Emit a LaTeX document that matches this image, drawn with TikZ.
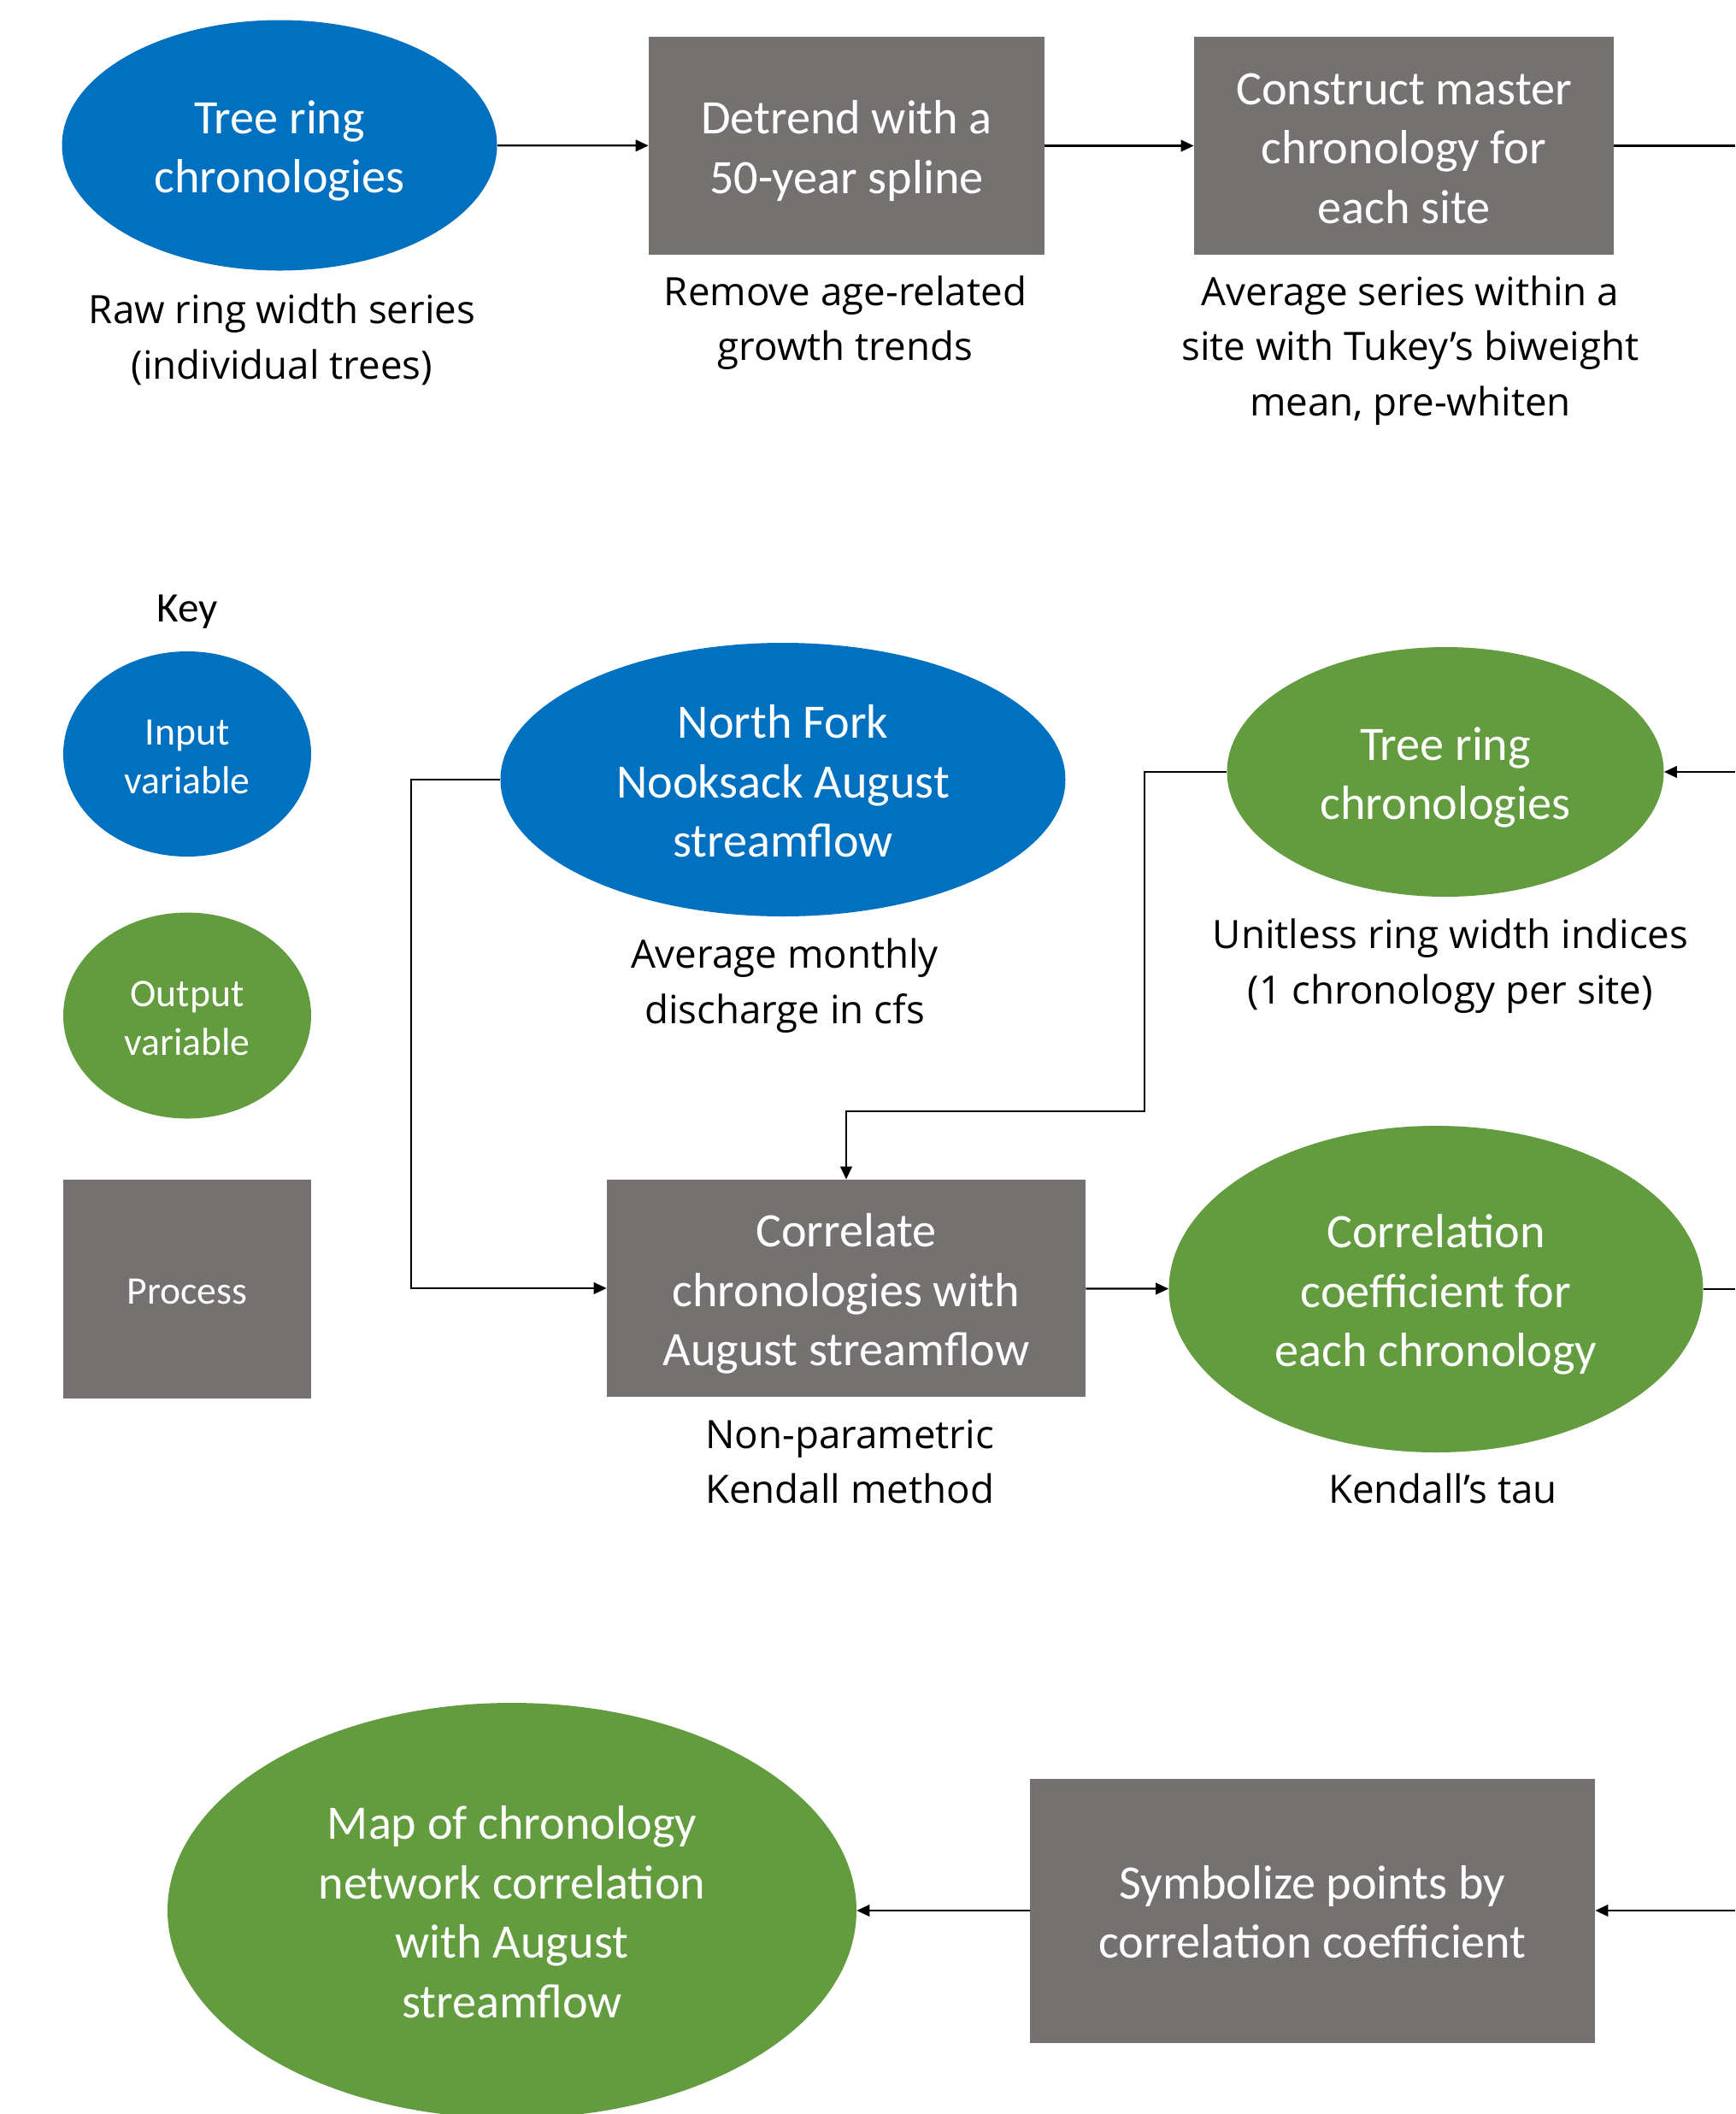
\documentclass[tikz,border=0pt]{standalone}
\usepackage{fontspec}
\setmainfont{Carlito}
\newfontfamily\capfont{Open Sans}
\usepackage{xcolor}
\usepackage{tikz}
\usetikzlibrary{shapes,positioning,calc,arrows.meta}
\definecolor{inblue}{HTML}{0070C0}
\definecolor{outgreen}{HTML}{629C3F}
\definecolor{procgray}{HTML}{767171}
\newcommand{\bodystrut}{\rule{0pt}{32pt}}
\newcommand{\keystrut}{\rule{0pt}{28pt}}

\begin{document}
\begin{tikzpicture}[node distance=0cm, auto,
    bodytext/.style={text=white, inner sep=0pt, align=center, font=\fontsize{32}{39.5}\selectfont,
        execute at end node={\rule[-8pt]{0pt}{8pt}}},
    inputvar/.style={ellipse, fill=inblue, bodytext},
    outputvar/.style={ellipse, fill=outgreen, bodytext},
    process/.style={rectangle, fill=procgray, bodytext},
    keytext/.style={font=\fontsize{26}{32.4}\selectfont},
    caption/.style={align=center, inner sep=0pt, font=\capfont\fontsize{26}{36.7}\selectfont,
        execute at begin node={\rule{0pt}{22pt}}, execute at end node={\rule[-7pt]{0pt}{7pt}}},
    arr/.style={line width=1.3pt, -{Triangle[length=0.3cm,width=0.27cm]}},
    link/.style={line width=1.3pt}]
    \useasboundingbox (0,0) rectangle (40.6,-49.46);

    \node [inputvar, minimum width=10.18cm, minimum height=5.86cm] (rawtree) at (6.54,-3.40) {\bodystrut Tree ring\\chronologies};
    \node [caption] (rawcap) at (6.60,-8.00) {Raw ring width series\\(individual trees)};

    \node [process, minimum width=9.26cm, minimum height=5.10cm] (detrend) at (19.81,-3.41) {\bodystrut Detrend with a\\50-year spline};
    \node [caption] (detcap) at (19.78,-7.57) {Remove age-related\\growth trends};

    \node [process, minimum width=9.82cm, minimum height=5.10cm] (master) at (32.85,-3.41) {\bodystrut Construct master\\chronology for\\each site};
    \node [caption] (mascap) at (33.00,-8.21) {Average series within a\\site with Tukey’s biweight\\mean, pre-whiten};

    % Key
    \node [font=\fontsize{28}{34}\selectfont] (key) at (4.38,-14.31) {Key};
    \node [inputvar, keytext, minimum width=5.80cm, minimum height=4.80cm] (keyin) at (4.38,-17.64) {\keystrut Input\\variable};
    \node [outputvar, keytext, minimum width=5.80cm, minimum height=4.82cm] (keyout) at (4.38,-23.76) {\keystrut Output\\variable};
    \node [process, keytext, minimum width=5.80cm, minimum height=5.12cm] (keyproc) at (4.38,-30.16) {\keystrut Process};

    \node [inputvar, minimum width=13.22cm, minimum height=6.40cm] (flow) at (18.32,-18.24) {\bodystrut North Fork\\Nooksack August\\streamflow};
    \node [caption] (flowcap) at (18.36,-23.08) {Average monthly\\discharge in cfs};

    \node [outputvar, minimum width=10.22cm, minimum height=5.84cm] (treeout) at (33.82,-18.06) {\bodystrut Tree ring\\chronologies};
    \node [caption] (treecap) at (33.94,-22.62) {Unitless ring width indices\\(1 chronology per site)};

    \node [process, minimum width=11.20cm, minimum height=5.08cm] (correl) at (19.80,-30.14) {\bodystrut Correlate\\chronologies with\\August streamflow};
    \node [caption] (correlcap) at (19.88,-34.32) {Non-parametric\\Kendall method};

    \node [outputvar, minimum width=12.50cm, minimum height=7.64cm] (coef) at (33.60,-30.16) {\bodystrut Correlation\\coefficient for\\each chronology};
    \node [caption] (coefcap) at (33.76,-34.90) {Kendall’s tau};

    \node [outputvar, minimum width=16.12cm, minimum height=9.72cm] (map) at (11.98,-44.70) {\bodystrut Map of chronology\\network correlation\\with August\\streamflow};
    \node [process, minimum width=13.22cm, minimum height=6.18cm] (symb) at (30.71,-44.70) {\bodystrut Symbolize points by\\correlation coefficient};

    % free ends at the right edge, bends
    \coordinate (edgetop) at (40.6,-3.41);
    \coordinate (edgetree) at (40.6,-18.06);
    \coordinate (edgecoef) at (40.6,-30.16);
    \coordinate (edgesymb) at (40.6,-44.70);
    \coordinate (flowbend) at (9.62,-18.24);
    \coordinate (treebend) at (26.78,-26.00);

    \draw [arr] (rawtree) -- (detrend);
    \draw [arr] (detrend) -- (master);
    \draw [link] (master.east) -- (edgetop);
    \draw [arr] (edgetree) -- (treeout.east);
    \draw [arr] (flow.west) -- (flowbend) |- (correl.west);
    \draw [arr] (treeout.west) -| (treebend) -| (correl.north);
    \draw [arr] (correl) -- (coef);
    \draw [link] (coef.east) -- (edgecoef);
    \draw [arr] (edgesymb) -- (symb.east);
    \draw [arr] (symb) -- (map);
\end{tikzpicture}
\end{document}
